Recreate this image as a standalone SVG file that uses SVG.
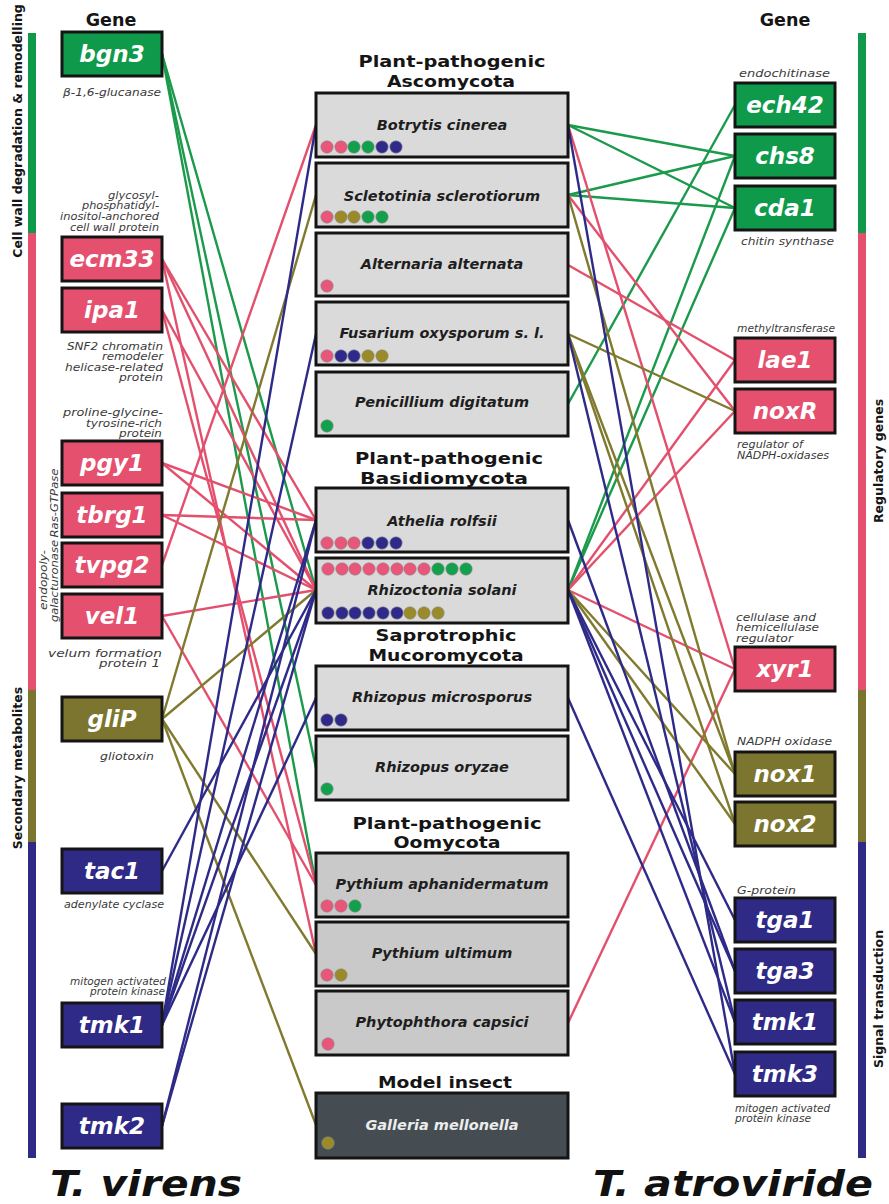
<svg xmlns="http://www.w3.org/2000/svg" width="889" height="1204" viewBox="0 0 889 1204">
<style>
text{font-family:"DejaVu Sans","Verdana",sans-serif}
.gene rect{stroke:#141414;stroke-width:3}
.gene text{font-weight:bold;font-style:italic;font-size:23px;fill:#fff;text-anchor:middle}
.fg{fill:#0f9a4b}.fp{fill:#e5506e}.fo{fill:#7b7530}.fb{fill:#2f2a86}
.dg{fill:#12a04d}.dp{fill:#e8567a}.do{fill:#9a8a2a}.db{fill:#2f2a8a}
.dots circle{stroke:#8a8a8a;stroke-width:0.6}
.sp rect{stroke:#141414;stroke-width:3;fill:#dadada}
.sp.oo rect{fill:#c9c9c9}
.sp text{font-weight:bold;font-style:italic;font-size:14.5px;fill:#1e1e1e;text-anchor:middle}
.sp.ins rect{fill:#454d52}
.sp.ins text{fill:#ececec}
.hd{font-weight:bold;font-size:16.5px;fill:#151515;text-anchor:middle}
.gh{font-weight:bold;font-size:17.5px;fill:#151515;text-anchor:middle}
.ds{font-style:italic;font-size:10.5px;fill:#3a3a3a}
.de{text-anchor:end}
.cat{font-weight:bold;font-size:12.5px;fill:#151515;text-anchor:middle}
.big{font-weight:bold;font-style:italic;font-size:36px;fill:#111}
.lk line{stroke-width:2.4;fill:none}
.lg{stroke:#1b9a4b}.lp{stroke:#e3506d}.lo{stroke:#807a2e}.lb{stroke:#2e2a88}
</style>

<!-- category bars -->
<g id="bars-left">
<rect x="28" y="33" width="8" height="200" class="fg"/>
<rect x="28" y="233" width="8" height="457" class="fp"/>
<rect x="28" y="690" width="8" height="152" class="fo"/>
<rect x="28" y="842" width="8" height="316" class="fb"/>
</g>
<g id="bars-right">
<rect x="858" y="33" width="8" height="200" class="fg"/>
<rect x="858" y="233" width="8" height="457" class="fp"/>
<rect x="858" y="690" width="8" height="152" class="fo"/>
<rect x="858" y="842" width="8" height="316" class="fb"/>
</g>
<text class="cat" transform="translate(22,131) rotate(-90)">Cell wall degradation &amp; remodelling</text>
<text class="cat" transform="translate(22,768) rotate(-90)">Secondary metabolites</text>
<text class="cat" transform="translate(883,461) rotate(-90)">Regulatory genes</text>
<text class="cat" transform="translate(883,999) rotate(-90)">Signal transduction</text>

<text class="gh" x="111" y="26">Gene</text>
<text class="gh" x="785" y="26">Gene</text>

<!-- connectors -->
<g id="connectors" class="lk">
<!-- green -->
<line class="lg" x1="162" y1="54" x2="316" y2="590"/>
<line class="lg" x1="162" y1="54" x2="316" y2="768"/>
<line class="lg" x1="162" y1="54" x2="316" y2="885"/>
<line class="lg" x1="568" y1="125" x2="735" y2="156"/>
<line class="lg" x1="568" y1="125" x2="735" y2="208"/>
<line class="lg" x1="568" y1="195" x2="735" y2="156"/>
<line class="lg" x1="568" y1="195" x2="735" y2="208"/>
<line class="lg" x1="568" y1="404" x2="735" y2="105"/>
<line class="lg" x1="568" y1="590" x2="735" y2="156"/>
<line class="lg" x1="568" y1="590" x2="735" y2="208"/>
<!-- pink -->
<line class="lp" x1="162" y1="259" x2="316" y2="520"/>
<line class="lp" x1="162" y1="259" x2="316" y2="590"/>
<line class="lp" x1="162" y1="259" x2="316" y2="954"/>
<line class="lp" x1="162" y1="310" x2="316" y2="590"/>
<line class="lp" x1="162" y1="310" x2="316" y2="885"/>
<line class="lp" x1="162" y1="463" x2="316" y2="520"/>
<line class="lp" x1="162" y1="463" x2="316" y2="590"/>
<line class="lp" x1="162" y1="515" x2="316" y2="520"/>
<line class="lp" x1="162" y1="515" x2="316" y2="590"/>
<line class="lp" x1="162" y1="565" x2="316" y2="125"/>
<line class="lp" x1="162" y1="616" x2="316" y2="590"/>
<line class="lp" x1="162" y1="616" x2="316" y2="885"/>
<line class="lp" x1="568" y1="125" x2="735" y2="669"/>
<line class="lp" x1="568" y1="195" x2="735" y2="411"/>
<line class="lp" x1="568" y1="265" x2="735" y2="360"/>
<line class="lp" x1="568" y1="590" x2="735" y2="360"/>
<line class="lp" x1="568" y1="590" x2="735" y2="411"/>
<line class="lp" x1="568" y1="590" x2="735" y2="669"/>
<line class="lp" x1="568" y1="1023" x2="735" y2="669"/>
<!-- olive -->
<line class="lo" x1="162" y1="719" x2="316" y2="195"/>
<line class="lo" x1="162" y1="719" x2="316" y2="590"/>
<line class="lo" x1="162" y1="719" x2="316" y2="954"/>
<line class="lo" x1="162" y1="719" x2="316" y2="1125"/>
<line class="lo" x1="568" y1="195" x2="735" y2="774"/>
<line class="lo" x1="568" y1="334" x2="735" y2="411"/>
<line class="lo" x1="568" y1="334" x2="735" y2="774"/>
<line class="lo" x1="568" y1="334" x2="735" y2="824"/>
<line class="lo" x1="568" y1="590" x2="735" y2="774"/>
<line class="lo" x1="568" y1="590" x2="735" y2="824"/>
<!-- blue -->
<line class="lb" x1="162" y1="1025" x2="316" y2="125"/>
<line class="lb" x1="162" y1="1025" x2="316" y2="334"/>
<line class="lb" x1="162" y1="1025" x2="316" y2="520"/>
<line class="lb" x1="162" y1="1025" x2="316" y2="590"/>
<line class="lb" x1="162" y1="1025" x2="316" y2="698"/>
<line class="lb" x1="162" y1="1126" x2="316" y2="520"/>
<line class="lb" x1="162" y1="1126" x2="316" y2="590"/>
<line class="lb" x1="162" y1="871" x2="316" y2="590"/>
<line class="lb" x1="568" y1="125" x2="735" y2="1074"/>
<line class="lb" x1="568" y1="334" x2="735" y2="1022"/>
<line class="lb" x1="568" y1="520" x2="735" y2="971"/>
<line class="lb" x1="568" y1="590" x2="735" y2="920"/>
<line class="lb" x1="568" y1="590" x2="735" y2="971"/>
<line class="lb" x1="568" y1="590" x2="735" y2="1022"/>
<line class="lb" x1="568" y1="698" x2="735" y2="1074"/>
</g>

<!-- left genes -->
<g id="g-bgn3" class="gene"><rect x="62" y="32" width="100" height="44" class="fg"/><text x="112" y="62">bgn3</text></g>
<g id="g-ecm33" class="gene"><rect x="62" y="237" width="100" height="44" class="fp"/><text x="112" y="267">ecm33</text></g>
<g id="g-ipa1" class="gene"><rect x="62" y="288" width="100" height="44" class="fp"/><text x="112" y="318">ipa1</text></g>
<g id="g-pgy1" class="gene"><rect x="62" y="441" width="100" height="44" class="fp"/><text x="112" y="471">pgy1</text></g>
<g id="g-tbrg1" class="gene"><rect x="62" y="493" width="100" height="44" class="fp"/><text x="112" y="523">tbrg1</text></g>
<g id="g-tvpg2" class="gene"><rect x="62" y="543" width="100" height="44" class="fp"/><text x="112" y="573">tvpg2</text></g>
<g id="g-vel1" class="gene"><rect x="62" y="594" width="100" height="44" class="fp"/><text x="112" y="624">vel1</text></g>
<g id="g-gliP" class="gene"><rect x="62" y="697" width="100" height="44" class="fo"/><text x="112" y="727">gliP</text></g>
<g id="g-tac1" class="gene"><rect x="62" y="849" width="100" height="44" class="fb"/><text x="112" y="879">tac1</text></g>
<g id="g-tmk1-v" class="gene"><rect x="62" y="1003" width="100" height="44" class="fb"/><text x="112" y="1033">tmk1</text></g>
<g id="g-tmk2" class="gene"><rect x="62" y="1104" width="100" height="44" class="fb"/><text x="112" y="1134">tmk2</text></g>

<!-- right genes -->
<g id="g-ech42" class="gene"><rect x="735" y="83" width="100" height="44" class="fg"/><text x="785" y="113">ech42</text></g>
<g id="g-chs8" class="gene"><rect x="735" y="134" width="100" height="44" class="fg"/><text x="785" y="164">chs8</text></g>
<g id="g-cda1" class="gene"><rect x="735" y="186" width="100" height="44" class="fg"/><text x="785" y="216">cda1</text></g>
<g id="g-lae1" class="gene"><rect x="735" y="338" width="100" height="44" class="fp"/><text x="785" y="368">lae1</text></g>
<g id="g-noxR" class="gene"><rect x="735" y="389" width="100" height="44" class="fp"/><text x="785" y="419">noxR</text></g>
<g id="g-xyr1" class="gene"><rect x="735" y="647" width="100" height="44" class="fp"/><text x="785" y="677">xyr1</text></g>
<g id="g-nox1" class="gene"><rect x="735" y="752" width="100" height="44" class="fo"/><text x="785" y="782">nox1</text></g>
<g id="g-nox2" class="gene"><rect x="735" y="802" width="100" height="44" class="fo"/><text x="785" y="832">nox2</text></g>
<g id="g-tga1" class="gene"><rect x="735" y="898" width="100" height="44" class="fb"/><text x="785" y="928">tga1</text></g>
<g id="g-tga3" class="gene"><rect x="735" y="949" width="100" height="44" class="fb"/><text x="785" y="979">tga3</text></g>
<g id="g-tmk1-a" class="gene"><rect x="735" y="1000" width="100" height="44" class="fb"/><text x="785" y="1030">tmk1</text></g>
<g id="g-tmk3" class="gene"><rect x="735" y="1052" width="100" height="44" class="fb"/><text x="785" y="1082">tmk3</text></g>

<!-- descriptions -->
<g id="descriptions">
<text class="ds de" x="161" y="96" textLength="98" lengthAdjust="spacingAndGlyphs">β-1,6-glucanase</text>
<text class="ds de" x="159" y="199" textLength="51" lengthAdjust="spacingAndGlyphs">glycosyl-</text>
<text class="ds de" x="159" y="209" textLength="77" lengthAdjust="spacingAndGlyphs">phosphatidyl-</text>
<text class="ds de" x="159" y="220" textLength="99" lengthAdjust="spacingAndGlyphs">inositol-anchored</text>
<text class="ds de" x="159" y="231" textLength="89" lengthAdjust="spacingAndGlyphs">cell wall protein</text>
<text class="ds de" x="163" y="350" textLength="96" lengthAdjust="spacingAndGlyphs">SNF2 chromatin</text>
<text class="ds de" x="163" y="360" textLength="61" lengthAdjust="spacingAndGlyphs">remodeler</text>
<text class="ds de" x="163" y="371" textLength="98" lengthAdjust="spacingAndGlyphs">helicase-related</text>
<text class="ds de" x="163" y="381" textLength="44" lengthAdjust="spacingAndGlyphs">protein</text>
<text class="ds de" x="163" y="416" textLength="100" lengthAdjust="spacingAndGlyphs">proline-glycine-</text>
<text class="ds de" x="162" y="427" textLength="76" lengthAdjust="spacingAndGlyphs">tyrosine-rich</text>
<text class="ds de" x="162" y="437" textLength="43" lengthAdjust="spacingAndGlyphs">protein</text>
<text class="ds" text-anchor="middle" transform="translate(58,503) rotate(-90)" textLength="69" lengthAdjust="spacingAndGlyphs">Ras-GTPase</text>
<text class="ds" text-anchor="middle" transform="translate(47,580) rotate(-90)" textLength="60" lengthAdjust="spacingAndGlyphs">endopoly-</text>
<text class="ds" text-anchor="middle" transform="translate(58,581) rotate(-90)" textLength="82" lengthAdjust="spacingAndGlyphs">galacturonase</text>
<text class="ds de" x="162" y="657" textLength="114" lengthAdjust="spacingAndGlyphs">velum formation</text>
<text class="ds de" x="160" y="667" textLength="61" lengthAdjust="spacingAndGlyphs">protein 1</text>
<text class="ds de" x="154" y="760" textLength="54" lengthAdjust="spacingAndGlyphs">gliotoxin</text>
<text class="ds de" x="164" y="908" textLength="100" lengthAdjust="spacingAndGlyphs">adenylate cyclase</text>
<text class="ds de" x="166" y="985" textLength="96" lengthAdjust="spacingAndGlyphs">mitogen activated</text>
<text class="ds de" x="165" y="995" textLength="75" lengthAdjust="spacingAndGlyphs">protein kinase</text>
<text class="ds" x="739" y="77" textLength="91" lengthAdjust="spacingAndGlyphs">endochitinase</text>
<text class="ds" x="741" y="245" textLength="93" lengthAdjust="spacingAndGlyphs">chitin synthase</text>
<text class="ds" x="737" y="332" textLength="98" lengthAdjust="spacingAndGlyphs">methyltransferase</text>
<text class="ds" x="737" y="448" textLength="66" lengthAdjust="spacingAndGlyphs">regulator of</text>
<text class="ds" x="737" y="459" textLength="92" lengthAdjust="spacingAndGlyphs">NADPH-oxidases</text>
<text class="ds" x="736" y="621" textLength="80" lengthAdjust="spacingAndGlyphs">cellulase and</text>
<text class="ds" x="736" y="631" textLength="83" lengthAdjust="spacingAndGlyphs">hemicellulase</text>
<text class="ds" x="736" y="642" textLength="57" lengthAdjust="spacingAndGlyphs">regulator</text>
<text class="ds" x="737" y="745" textLength="95" lengthAdjust="spacingAndGlyphs">NADPH oxidase</text>
<text class="ds" x="737" y="894" textLength="59" lengthAdjust="spacingAndGlyphs">G-protein</text>
<text class="ds" x="735" y="1112" textLength="95" lengthAdjust="spacingAndGlyphs">mitogen activated</text>
<text class="ds" x="735" y="1122" textLength="76" lengthAdjust="spacingAndGlyphs">protein kinase</text>
</g>

<!-- group headings -->
<text class="hd" x="452" y="67" textLength="187" lengthAdjust="spacingAndGlyphs">Plant-pathogenic</text>
<text class="hd" x="451" y="87" textLength="128" lengthAdjust="spacingAndGlyphs">Ascomycota</text>
<text class="hd" x="449" y="464" textLength="188" lengthAdjust="spacingAndGlyphs">Plant-pathogenic</text>
<text class="hd" x="444" y="484" textLength="168" lengthAdjust="spacingAndGlyphs">Basidiomycota</text>
<text class="hd" x="446" y="641" textLength="141" lengthAdjust="spacingAndGlyphs">Saprotrophic</text>
<text class="hd" x="446" y="661" textLength="155" lengthAdjust="spacingAndGlyphs">Mucoromycota</text>
<text class="hd" x="447" y="829" textLength="189" lengthAdjust="spacingAndGlyphs">Plant-pathogenic</text>
<text class="hd" x="447" y="848" textLength="107" lengthAdjust="spacingAndGlyphs">Oomycota</text>
<text class="hd" x="445" y="1088" textLength="134" lengthAdjust="spacingAndGlyphs">Model insect</text>

<!-- species nodes -->
<g id="s-botrytis" class="sp"><rect x="316" y="93" width="252" height="64"/><text x="442" y="130">Botrytis cinerea</text>
<g class="dots"><circle cx="327" cy="147" r="6.2" class="dp"/><circle cx="341" cy="147" r="6.2" class="dp"/><circle cx="354" cy="147" r="6.2" class="dg"/><circle cx="368" cy="147" r="6.2" class="dg"/><circle cx="382" cy="147" r="6.2" class="db"/><circle cx="396" cy="147" r="6.2" class="db"/></g></g>
<g id="s-sclerotinia" class="sp"><rect x="316" y="163" width="252" height="64"/><text x="442" y="201">Scletotinia sclerotiorum</text>
<g class="dots"><circle cx="327" cy="217" r="6.2" class="dp"/><circle cx="341" cy="217" r="6.2" class="do"/><circle cx="354" cy="217" r="6.2" class="do"/><circle cx="368" cy="217" r="6.2" class="dg"/><circle cx="382" cy="217" r="6.2" class="dg"/></g></g>
<g id="s-alternaria" class="sp"><rect x="316" y="233" width="252" height="63"/><text x="442" y="269">Alternaria alternata</text>
<g class="dots"><circle cx="327" cy="286" r="6.2" class="dp"/></g></g>
<g id="s-fusarium" class="sp"><rect x="316" y="302" width="252" height="63"/><text x="442" y="338">Fusarium oxysporum s. l.</text>
<g class="dots"><circle cx="327" cy="356" r="6.2" class="dp"/><circle cx="341" cy="356" r="6.2" class="db"/><circle cx="354" cy="356" r="6.2" class="db"/><circle cx="368" cy="356" r="6.2" class="do"/><circle cx="382" cy="356" r="6.2" class="do"/></g></g>
<g id="s-penicillium" class="sp"><rect x="316" y="372" width="252" height="64"/><text x="442" y="407">Penicillium digitatum</text>
<g class="dots"><circle cx="327" cy="426" r="6.2" class="dg"/></g></g>
<g id="s-athelia" class="sp"><rect x="316" y="488" width="252" height="64"/><text x="442" y="526">Athelia rolfsii</text>
<g class="dots"><circle cx="327" cy="543" r="6.2" class="dp"/><circle cx="341" cy="543" r="6.2" class="dp"/><circle cx="354" cy="543" r="6.2" class="dp"/><circle cx="368" cy="543" r="6.2" class="db"/><circle cx="382" cy="543" r="6.2" class="db"/><circle cx="396" cy="543" r="6.2" class="db"/></g></g>
<g id="s-rhizoctonia" class="sp"><rect x="316" y="558" width="252" height="65"/><text x="442" y="595">Rhizoctonia solani</text>
<g class="dots"><circle cx="328" cy="569" r="6.2" class="dp"/><circle cx="342" cy="569" r="6.2" class="dp"/><circle cx="355" cy="569" r="6.2" class="dp"/><circle cx="369" cy="569" r="6.2" class="dp"/><circle cx="383" cy="569" r="6.2" class="dp"/><circle cx="397" cy="569" r="6.2" class="dp"/><circle cx="410" cy="569" r="6.2" class="dp"/><circle cx="424" cy="569" r="6.2" class="dp"/><circle cx="438" cy="569" r="6.2" class="dg"/><circle cx="452" cy="569" r="6.2" class="dg"/><circle cx="466" cy="569" r="6.2" class="dg"/>
<circle cx="328" cy="613" r="6.2" class="db"/><circle cx="342" cy="613" r="6.2" class="db"/><circle cx="355" cy="613" r="6.2" class="db"/><circle cx="369" cy="613" r="6.2" class="db"/><circle cx="383" cy="613" r="6.2" class="db"/><circle cx="397" cy="613" r="6.2" class="db"/><circle cx="410" cy="613" r="6.2" class="do"/><circle cx="424" cy="613" r="6.2" class="do"/><circle cx="438" cy="613" r="6.2" class="do"/></g></g>
<g id="s-rmicrosporus" class="sp"><rect x="316" y="666" width="252" height="64"/><text x="442" y="702">Rhizopus microsporus</text>
<g class="dots"><circle cx="327" cy="720" r="6.2" class="db"/><circle cx="341" cy="720" r="6.2" class="db"/></g></g>
<g id="s-roryzae" class="sp"><rect x="316" y="736" width="252" height="64"/><text x="442" y="772">Rhizopus oryzae</text>
<g class="dots"><circle cx="327" cy="789" r="6.2" class="dg"/></g></g>
<g id="s-paphanidermatum" class="sp oo"><rect x="316" y="853" width="252" height="64"/><text x="442" y="889">Pythium aphanidermatum</text>
<g class="dots"><circle cx="327" cy="906" r="6.2" class="dp"/><circle cx="341" cy="906" r="6.2" class="dp"/><circle cx="355" cy="906" r="6.2" class="dg"/></g></g>
<g id="s-pultimum" class="sp oo"><rect x="316" y="922" width="252" height="64"/><text x="442" y="958">Pythium ultimum</text>
<g class="dots"><circle cx="327" cy="975" r="6.2" class="dp"/><circle cx="341" cy="975" r="6.2" class="do"/></g></g>
<g id="s-pcapsici" class="sp oo"><rect x="316" y="991" width="252" height="64"/><text x="442" y="1027">Phytophthora capsici</text>
<g class="dots"><circle cx="328" cy="1044" r="6.2" class="dp"/></g></g>
<g id="s-galleria" class="sp ins"><rect x="316" y="1093" width="252" height="65"/><text x="442" y="1130">Galleria mellonella</text>
<g class="dots"><circle cx="328" cy="1143" r="6.2" class="do"/></g></g>

<text class="big" x="50" y="1196" textLength="192" lengthAdjust="spacingAndGlyphs">T. virens</text>
<text class="big" x="593" y="1196" textLength="280" lengthAdjust="spacingAndGlyphs">T. atroviride</text>
</svg>
